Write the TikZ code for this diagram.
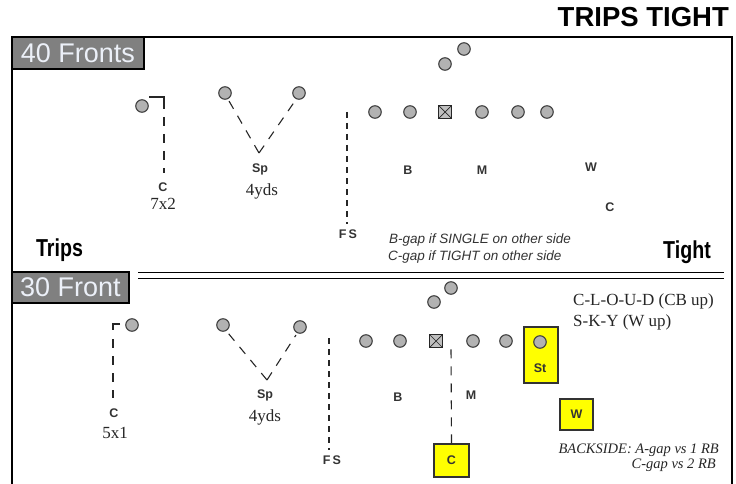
\documentclass[tikz,border=0pt]{standalone}
\usepackage{fontspec}
\setmainfont{Liberation Serif}
\newfontfamily\sansf{Liberation Sans}
\newfontfamily\narrowf[FakeStretch=0.8]{Liberation Sans}
\definecolor{lbltxt}{RGB}{236,240,248}
\definecolor{hlyellow}{RGB}{255,255,0}
\begin{document}
\begin{tikzpicture}[x=1pt,y=-1pt,
  player/.style={circle, draw=black!75, fill=black!30, line width=1.1pt, minimum size=12.5pt, inner sep=0pt},
  snapbox/.style={rectangle, draw=black!85, fill=black!25, minimum size=12.5pt, inner sep=0pt, line width=1.1pt,
    path picture={\draw[line width=0.7pt] (path picture bounding box.north west) -- (path picture bounding box.south east)
      (path picture bounding box.north east) -- (path picture bounding box.south west);}},
  lbl/.style={font=\sansf\bfseries\fontsize{12.5}{14}\selectfont, text=black!80, inner sep=0pt},
  ser/.style={font=\fontsize{17}{19}\selectfont, text=black!85, inner sep=0pt},
  route/.style={dash pattern=on 9pt off 8pt, line width=1.1pt, draw=black!85},
  solidroute/.style={line width=1.1pt, draw=black!85},
  hlbox/.style={rectangle, draw=black!80, fill=hlyellow, line width=1.2pt, inner sep=0pt},
  frontlbl/.style={rectangle, draw=black, line width=2.5pt, fill=black!50, text=lbltxt,
    font=\sansf\fontsize{27}{29}\selectfont, inner sep=0pt},
  sidelbl/.style={font=\narrowf\bfseries\fontsize{24.5}{26}\selectfont, inner sep=0pt},
  note/.style={font=\sansf\itshape\fontsize{13.5}{15}\selectfont, text=black!80, inner sep=0pt, anchor=west},
  bnote/.style={font=\itshape\fontsize{14.5}{16}\selectfont, text=black!85, inner sep=0pt, anchor=east}
]
\useasboundingbox (0,0) rectangle (736,484);
\fill[white] (0,0) rectangle (736,484);

% title
\node[font=\sansf\bfseries\fontsize{27.5}{30}\selectfont, anchor=east, inner sep=0pt] (title) at (729,17) {TRIPS TIGHT};

% frame
\draw[line width=2.5pt] (12,486) -- (12,37) -- (732,37) -- (732,486);

% separator
\draw[line width=1.6pt] (138,272.5) -- (724,272.5);
\draw[line width=1.6pt] (138,278.5) -- (724,278.5);

% front labels
\node[frontlbl, minimum width=132pt, minimum height=32pt] (f40) at (78,53) {40 Fronts};
\node[frontlbl, minimum width=117pt, minimum height=31pt] (f30) at (70.5,287.5) {30 Front};

\node[sidelbl] (trips) at (59.5,250) {Trips};
\node[sidelbl] (tight) at (687,252) {Tight};

% ================= TOP: 40 fronts =================
\node[player] (twr) at (142,106) {};
\coordinate (tcA) at (149,97);
\coordinate (tcB) at (164,97);
\coordinate (tcC) at (164,109);
\coordinate (tcD) at (164,117);
\coordinate (tcE) at (164,173);
\draw[solidroute] (tcA) -- (tcB) -- (tcC);
\draw[route] (tcD) -- (tcE);
\node[lbl] (tC) at (163,187) {C};
\node[ser] (t72) at (163,204) {7x2};

\node[player] (tsp1) at (225,93) {};
\node[player] (tsp2) at (299,93) {};
\coordinate (tspv) at (259,153);
\draw[route] (tspv) -- ([shift={(4,8)}]tsp1.center);
\draw[route] (tspv) -- ([shift={(-4,8)}]tsp2.center);
\node[lbl] (tSp) at (260,169) {Sp};
\node[ser] (t4y) at (262,191) {4yds};

\coordinate (tfs1) at (347,112);
\coordinate (tfs2) at (347,224);
\draw[route, dash pattern=on 6pt off 5pt] (tfs1) -- (tfs2);
\node[lbl] (tFS) at (348,234) {F\,S};

\node[player] (tl1) at (375,112) {};
\node[player] (tl2) at (410,112) {};
\node[snapbox] (tsn) at (445,112) {};
\node[player] (tl3) at (482,112) {};
\node[player] (tl4) at (518,112) {};
\node[player] (tl5) at (547,112) {};
\node[player] (tb1) at (445,64) {};
\node[player] (tb2) at (464,49) {};

\node[lbl] (tB) at (408,170) {B};
\node[lbl] (tM) at (482,170) {M};
\node[lbl] (tW) at (591,167) {W};
\node[lbl] (tC2) at (610,207) {C};

\node[note] (tn1) at (389,240) {B-gap if SINGLE on other side};
\node[note] (tn2) at (388,257) {C-gap if TIGHT on other side};

% ================= BOTTOM: 30 front =================
\node[player] (bwr) at (132,325) {};
\coordinate (bcA) at (120,324);
\coordinate (bcB) at (113,324);
\coordinate (bcC) at (113,330);
\coordinate (bcD) at (113,339);
\coordinate (bcE) at (113,398);
\draw[solidroute] (bcA) -- (bcB) -- (bcC);
\draw[route] (bcD) -- (bcE);
\node[lbl] (bC) at (114,413) {C};
\node[ser] (b51) at (115,433) {5x1};

\node[player] (bsp1) at (223,325) {};
\node[player] (bsp2) at (300,327) {};
\coordinate (bspv) at (267,380);
\draw[route] (bspv) -- ([shift={(5,8)}]bsp1.center);
\draw[route] (bspv) -- ([shift={(-4,8)}]bsp2.center);
\node[lbl] (bSp) at (265,395) {Sp};
\node[ser] (b4y) at (265,417) {4yds};

\coordinate (bfs1) at (329,338);
\coordinate (bfs2) at (329,450);
\draw[route, dash pattern=on 6pt off 5pt] (bfs1) -- (bfs2);
\node[lbl] (bFS) at (332,460) {F\,S};

\node[hlbox, minimum width=34pt, minimum height=56pt] (stbox) at (541,355) {};
\node[hlbox, minimum width=33pt, minimum height=31pt, font=\sansf\bfseries\fontsize{12.5}{14}\selectfont, text=black!80] (wbox) at (576.5,414.5) {W};
\node[hlbox, minimum width=35pt, minimum height=33pt, font=\sansf\bfseries\fontsize{12.5}{14}\selectfont, text=black!80] (cbox) at (451.5,460.5) {C};

\node[player] (bl1) at (366,341) {};
\node[player] (bl2) at (400,341) {};
\node[snapbox] (bsn) at (436,341) {};
\node[player] (bl3) at (473,341) {};
\node[player] (bl4) at (506,341) {};
\node[player] (bl5) at (540,342) {};
\node[lbl] (bSt) at (540,368) {St};
\node[player] (bb1) at (434,302) {};
\node[player] (bb2) at (451,288) {};

\coordinate (bcr) at (451,346);
\draw[route] (cbox.north) -- (bcr);

\node[lbl] (bB) at (398,397) {B};
\node[lbl] (bM) at (471,395) {M};

\node[ser, anchor=west] (cloud) at (573,301) {C-L-O-U-D (CB up)};
\node[ser, anchor=west] (sky) at (573,322) {S-K-Y (W up)};

\node[bnote] (bk1) at (719,450) {BACKSIDE: A-gap vs 1 RB};
\node[bnote] (bk2) at (716,465) {C-gap vs 2 RB};
\end{tikzpicture}
\end{document}
